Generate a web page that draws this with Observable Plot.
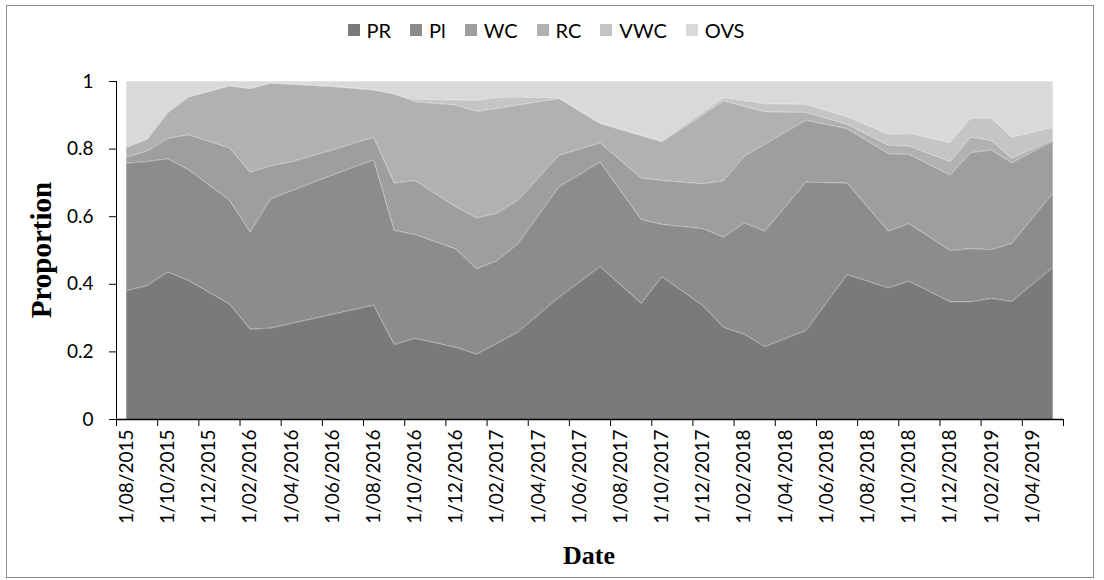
<!DOCTYPE html>
<html>
<head>
<meta charset="utf-8">
<script src="https://cdn.jsdelivr.net/npm/d3@7"></script>
<script src="https://cdn.jsdelivr.net/npm/@observablehq/plot@0.6"></script>
<style>
  body { margin: 0; background: #fff; }
  #wrap { position: relative; width: 1104px; height: 580px; overflow: hidden; font-family: Lato, "Noto Sans", sans-serif; }
  #frame { position: absolute; left: 6px; top: 5px; width: 1088px; height: 573px; border: 1px solid #8c8c8c; box-sizing: border-box; }
  #chart { position: absolute; left: 0; top: 0; }
  #legend { position: absolute; top: 18px; left: 0; width: 1092px; display: flex; justify-content: center; font-size: 20px; color: #000; }
  .item { display: flex; align-items: center; margin: 0 9.5px; }
  .sw { width: 12px; height: 12px; margin-right: 7px; }
  .title { position: absolute; font-family: "Liberation Serif", "DejaVu Serif", serif; font-weight: bold; color: #000; white-space: nowrap; }
  #ytitle { left: 41px; top: 250px; font-size: 29px; transform: translate(-50%, -50%) rotate(-90deg); }
  #xtitle { left: 589px; top: 556px; font-size: 26px; transform: translate(-50%, -50%); }
</style>
</head>
<body>
<div id="wrap">
  <div id="frame"></div>
  <div id="chart"></div>
  <div id="legend"></div>
  <div class="title" id="ytitle">Proportion</div>
  <div class="title" id="xtitle">Date</div>
</div>
<script>
// ---- data ----
const dates = ["2015-08","2015-09","2015-10","2015-11","2016-01","2016-02","2016-03","2016-04","2016-06",
  "2016-08","2016-09","2016-10","2016-12","2017-01","2017-02","2017-03","2017-05","2017-07","2017-09",
  "2017-10","2017-12","2018-01","2018-02","2018-03","2018-05","2018-07","2018-09","2018-10","2018-12",
  "2019-01","2019-02","2019-03","2019-05"];
const PR  = [.381,.396,.436,.411,.341,.267,.270,.284,.311,.338,.221,.240,.213,.193,.225,.258,.361,.452,.343,.422,.336,.272,.252,.215,.263,.428,.389,.409,.348,.348,.358,.349,.450];
const Pl  = [.377,.367,.335,.328,.307,.287,.383,.392,.412,.430,.338,.307,.291,.252,.245,.261,.327,.309,.248,.155,.228,.267,.329,.342,.439,.271,.168,.170,.152,.157,.144,.172,.220];
const WC  = [.018,.031,.060,.103,.155,.177,.097,.086,.074,.067,.140,.160,.124,.151,.140,.129,.093,.057,.123,.130,.133,.167,.197,.257,.183,.161,.229,.205,.223,.284,.295,.238,.153];
const RC  = [.030,.035,.077,.112,.184,.248,.245,.230,.188,.140,.264,.233,.302,.315,.310,.282,.168,.057,.125,.114,.205,.236,.148,.096,.023,.013,.025,.025,.039,.046,.028,.013,.005];
const VWC = [0,0,0,0,0,0,0,0,0,0,0,.007,.015,.033,.032,.023,.003,.003,.003,.003,.007,.010,.017,.024,.024,.022,.033,.037,.057,.056,.066,.063,.035];
const OVS = [.194,.171,.092,.046,.013,.021,.005,.008,.015,.025,.037,.053,.055,.056,.048,.047,.048,.122,.158,.176,.091,.048,.057,.066,.068,.105,.156,.154,.181,.109,.109,.165,.137];

const seriesNames  = ["PR","Pl","WC","RC","VWC","OVS"];
const seriesColors = ["#7a7a7a","#8c8c8c","#9e9e9e","#b1b1b1","#c5c5c5","#d9d9d9"];
const yTicks = [0, 0.2, 0.4, 0.6, 0.8, 1];
const tickLabels = ["1/08/2015","1/10/2015","1/12/2015","1/02/2016","1/04/2016","1/06/2016","1/08/2016",
  "1/10/2016","1/12/2016","1/02/2017","1/04/2017","1/06/2017","1/08/2017","1/10/2017","1/12/2017",
  "1/02/2018","1/04/2018","1/06/2018","1/08/2018","1/10/2018","1/12/2018","1/02/2019","1/04/2019"];

// ---- build ----
const base = dates[0].split("-").map(Number);
const monthIndex = (y, m) => (y - base[0]) * 12 + (m - base[1]);
const fromIso = s => { const [y, m] = s.split("-").map(Number); return monthIndex(y, m); };
const values = {PR, Pl, WC, RC, VWC, OVS};
const rows = seriesNames.flatMap(name => dates.map((d, i) => ({series: name, x: fromIso(d) + 0.5, v: values[name][i]})));
const x0 = fromIso(dates[0]);
const x1 = fromIso(dates[dates.length - 1]) + 1;
const labelPos = tickLabels.map(t => { const [, mm, yy] = t.split("/").map(Number); return monthIndex(yy, mm) + 0.5; });
const labelMap = new Map(labelPos.map((p, i) => [p, tickLabels[i]]));
const tickMarks = d3.range(x0, x1 + 1, 2);

const chart = Plot.plot({
  width: 1104, height: 580,
  marginLeft: 116, marginRight: 41, marginTop: 81, marginBottom: 161,
  style: {fontFamily: "Lato, 'Noto Sans', sans-serif", fontSize: "19px", color: "#000", background: "transparent", overflow: "visible"},
  x: {type: "linear", domain: [x0, x1]},
  y: {domain: [0, 1]},
  color: {domain: seriesNames, range: seriesColors},
  marks: [
    Plot.areaY(rows, Plot.stackY({x: "x", y: "v", z: "series", fill: "series", order: seriesNames})),
    Plot.lineY(rows, Plot.stackY2({x: "x", y: "v", z: "series", order: seriesNames, stroke: "#ffffff", strokeOpacity: 0.3, strokeWidth: 1})),
    Plot.ruleY([0], {stroke: "#000", strokeWidth: 1.5}),
    Plot.ruleX([x0], {stroke: "#000", strokeWidth: 1}),
    Plot.axisX(tickMarks, {tickSize: 7, tickFormat: () => "", label: null, stroke: "#000"}),
    Plot.axisX(labelPos, {tickSize: 0, tickPadding: 10, tickRotate: -90, tickFormat: d => labelMap.get(d), label: null, fontSize: 19, fill: "#000"}),
    Plot.axisY(yTicks, {tickSize: 7, tickPadding: 16, tickFormat: d => String(+d.toFixed(1)), label: null, fontSize: 19, fill: "#000", stroke: "#000"})
  ]
});
document.getElementById("chart").appendChild(chart);

const legend = document.getElementById("legend");
seriesNames.forEach((name, i) => {
  const it = document.createElement("div");
  it.className = "item";
  const sw = document.createElement("div");
  sw.className = "sw";
  sw.style.background = seriesColors[i];
  const tx = document.createElement("span");
  tx.textContent = name;
  it.appendChild(sw); it.appendChild(tx);
  legend.appendChild(it);
});
</script>
</body>
</html>
